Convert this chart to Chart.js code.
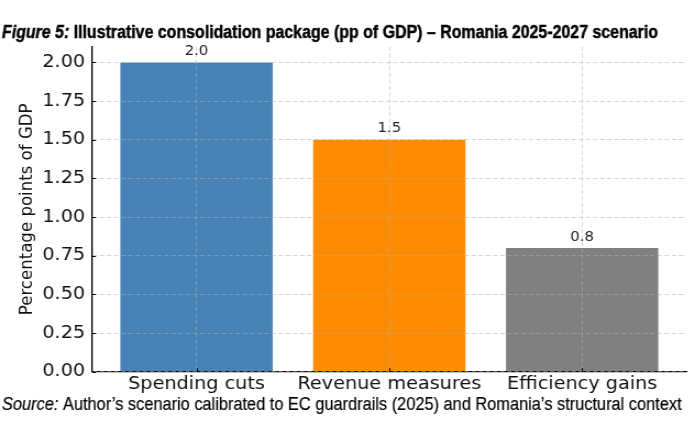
<!DOCTYPE html>
<html>
<head>
<meta charset="utf-8">
<script src="https://cdn.jsdelivr.net/npm/chart.js@4.4.1/dist/chart.umd.min.js"></script>
<style>
  html, body { margin: 0; padding: 0; background: #fff; overflow: hidden; }
  /* the reference is a matplotlib figure stretched a little sideways */
  #wrap { width: 632px; height: 437px; transform: scaleX(1.0997); transform-origin: 0 0; }
</style>
</head>
<body>
<div id="wrap"><canvas id="chart" width="632" height="437"></canvas></div>
<script>
const categories = ['Spending cuts', 'Revenue measures', 'Efficiency gains'];
const values = [2.0, 1.5, 0.8];
const barColors = ['#4682b4', '#ff8c00', '#808080'];
const yTicks = [0, 0.25, 0.5, 0.75, 1.0, 1.25, 1.5, 1.75, 2.0];
const yLabel = 'Percentage points of GDP';
const titleLead = 'Figure 5:';
const titleRest = ' Illustrative consolidation package (pp of GDP) \u2013 Romania 2025-2027 scenario';
const sourceLead = 'Source:';
const sourceRest = ' Author\u2019s scenario calibrated to EC guardrails (2025) and Romania\u2019s structural context';

const narrow = '"Liberation Sans Narrow", "Liberation Sans", Arial, sans-serif';
const tickColor = '#111';
const gridColor = 'rgba(176,176,176,0.6)';

// draw a run of differently styled text squeezed to a given width
function drawFitted(ctx, parts, x, baseline, width, heavy) {
  let total = 0;
  parts.forEach(p => {
    ctx.font = p.font;
    p.w = ctx.measureText(p.text).width;
    total += p.w;
  });
  ctx.save();
  ctx.translate(x, baseline);
  ctx.scale(width / total, 1);
  ctx.fillStyle = '#000';
  ctx.strokeStyle = '#000';
  ctx.lineWidth = heavy || 0;
  ctx.textBaseline = 'alphabetic';
  ctx.textAlign = 'left';
  let cx = 0;
  parts.forEach(p => {
    ctx.font = p.font;
    ctx.fillText(p.text, cx, 0);
    if (heavy) ctx.strokeText(p.text, cx, 0);
    cx += p.w;
  });
  ctx.restore();
}

const captions = {
  id: 'captions',
  afterDraw(chart) {
    const ctx = chart.ctx;
    drawFitted(ctx, [
      { text: titleLead, font: 'italic bold 18px ' + narrow },
      { text: titleRest, font: 'bold 18px ' + narrow }
    ], 1.8, 38, 596.5, 0.45);
    drawFitted(ctx, [
      { text: sourceLead, font: 'italic 18px ' + narrow },
      { text: sourceRest, font: '18px ' + narrow }
    ], 1.8, 410, 618, 0.2);
  }
};

const valueLabels = {
  id: 'valueLabels',
  afterDraw(chart) {
    const ctx = chart.ctx;
    const meta = chart.getDatasetMeta(0);
    ctx.save();
    ctx.font = '13.5px "DejaVu Sans"';
    ctx.fillStyle = '#222';
    ctx.textAlign = 'center';
    ctx.textBaseline = 'alphabetic';
    meta.data.forEach((bar, i) => {
      ctx.fillText(values[i].toFixed(1), bar.x, bar.y - 7.5);
    });
    ctx.restore();
  }
};

// matplotlib-style ticks pointing into the plot
const inwardTicks = {
  id: 'inwardTicks',
  afterDraw(chart) {
    const ctx = chart.ctx;
    const xs = chart.scales.x, ys = chart.scales.y;
    const area = chart.chartArea;
    ctx.save();
    ctx.strokeStyle = '#000';
    ctx.lineWidth = 1;
    ctx.beginPath();
    yTicks.forEach(v => {
      const y = Math.round(ys.getPixelForValue(v)) + 0.5;
      ctx.moveTo(area.left, y);
      ctx.lineTo(area.left + 3.2, y);
    });
    categories.forEach((_, i) => {
      const x = Math.round(xs.getPixelForValue(i)) + 0.5;
      ctx.moveTo(x, area.bottom);
      ctx.lineTo(x, area.bottom - 3.5);
    });
    ctx.stroke();
    ctx.restore();
  }
};

new Chart(document.getElementById('chart'), {
  type: 'bar',
  data: {
    datasets: [{
      data: values.map((v, i) => ({ x: i, y: v })),
      backgroundColor: barColors,
      borderWidth: 0,
      barPercentage: 0.79,
      categoryPercentage: 1.0
    }]
  },
  options: {
    responsive: false,
    animation: false,
    devicePixelRatio: 1,
    layout: { padding: { top: 47, right: 8, left: 0, bottom: 0 } },
    plugins: {
      legend: { display: false },
      tooltip: { enabled: false }
    },
    scales: {
      x: {
        type: 'linear',
        offset: false,
        min: -0.54,
        max: 2.54,
        afterBuildTicks: s => { s.ticks = categories.map((_, i) => ({ value: i })); },
        afterFit: s => { s.height = 65.3; },
        ticks: {
          callback: v => categories[Math.round(v)],
          font: { family: 'DejaVu Sans', size: 17.5 },
          color: tickColor,
          padding: 2,
          maxRotation: 0,
          autoSkip: false
        },
        grid: { color: gridColor, lineWidth: 0.9, drawTicks: false, offset: false, z: 1 },
        border: { display: true, color: '#000', width: 1.2, dash: [4, 2.5], z: 1 }
      },
      y: {
        min: 0,
        max: 2.1,
        afterBuildTicks: s => { s.ticks = yTicks.map(v => ({ value: v })); },
        afterFit: s => { s.width = 84; },
        ticks: {
          callback: v => v.toFixed(2),
          font: { family: 'DejaVu Sans', size: 17.5 },
          color: tickColor,
          padding: 6.6
        },
        title: {
          display: true,
          text: yLabel,
          font: { family: 'DejaVu Sans', size: 16.6 },
          color: tickColor,
          padding: { top: 14.5, bottom: 0 }
        },
        grid: { color: gridColor, lineWidth: 0.9, drawTicks: false, z: 1 },
        border: { display: true, color: '#000', width: 1.3, dash: [4, 2.5], z: 1 }
      }
    }
  },
  plugins: [captions, valueLabels, inwardTicks]
});
</script>
</body>
</html>
